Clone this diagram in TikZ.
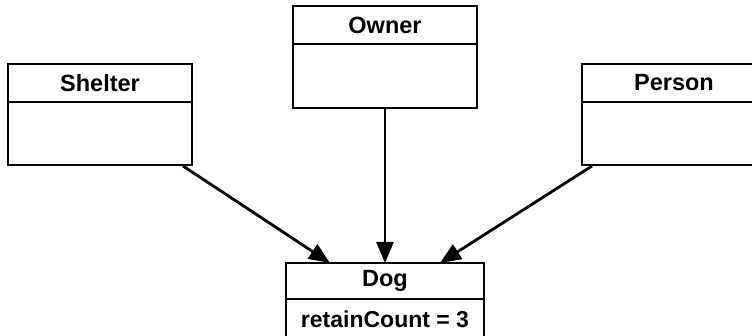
\documentclass[tikz,border=0pt]{standalone}
\usepackage{fontspec}
\setmainfont{Liberation Sans}
\usetikzlibrary{positioning,arrows.meta}
\tikzset{
    classhead/.style={draw, line width=2.8pt, inner sep=0pt, outer sep=0pt,
        minimum width=184pt, minimum height=38pt,
        font=\fontsize{23.5}{28}\selectfont\bfseries},
    classbody/.style={draw, line width=2.8pt, inner sep=0pt, outer sep=0pt,
        minimum width=184pt, minimum height=63pt,
        font=\fontsize{23}{28}\selectfont\bfseries},
    link/.style={line width=2.8pt, -{Triangle[length=21pt,width=17pt]}}
}
\begin{document}
\begin{tikzpicture}[x=1pt, y=-1pt]
    \useasboundingbox (0,0) rectangle (752,336);
    %Shelter
    \node[classhead] (shelter) at (100,83) {Shelter};
    \node[classbody, below=0pt of shelter] (shelterbody) {};
    %Owner
    \node[classhead] (owner) at (385,25) {Owner};
    \node[classbody, minimum height=64pt, below=0pt of owner] (ownerbody) {};
    %Person
    \node[classhead] (person) at (674,83) {Person};
    \node[classbody, below=0pt of person] (personbody) {};
    %Dog
    \node[classhead, minimum width=198pt, minimum height=36pt] (dog) at (385,281) {Dog};
    \node[classbody, minimum width=198pt, minimum height=40pt, below=0pt of dog] (dogbody) {retainCount = 3};
    %Arrows
    \draw[link] ([xshift=-9pt,yshift=-1pt]shelterbody.south east) -- ([xshift=-55pt]dog.north);
    \draw[link] (ownerbody.south) -- (dog.north);
    \draw[link] ([xshift=10pt,yshift=-1pt]personbody.south west) -- ([xshift=55pt]dog.north);
\end{tikzpicture}
\end{document}
